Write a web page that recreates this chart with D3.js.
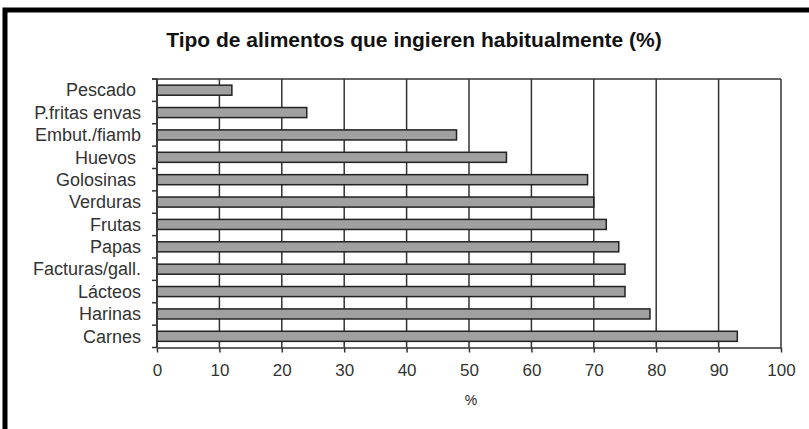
<!DOCTYPE html>
<html>
<head>
<meta charset="utf-8">
<script src="https://cdn.jsdelivr.net/npm/d3@7"></script>
<style>
  body { margin: 0; background: #fff; }
  svg { display: block; font-family: "Liberation Sans", Arial, sans-serif; }
</style>
</head>
<body>
<script>
var categories = ["Pescado ", "P.fritas envas", "Embut./fiamb", "Huevos ", "Golosinas ", "Verduras",
                  "Frutas", "Papas", "Facturas/gall.", "Lácteos", "Harinas", "Carnes"];
var values = [12, 24, 48, 56, 69, 70, 72, 74, 75, 75, 79, 93];
var xTicks = [0, 10, 20, 30, 40, 50, 60, 70, 80, 90, 100];

var chartTitle = "Tipo de alimentos que ingieren habitualmente (%)";
var xTitle = "%";

var outerWidth = 809;
var outerHeight = 429;
var plotLeft = 157;
var plotRight = 781;
var plotTop = 79;
var plotBottom = 347.5;

var lineColor = "#333";
var barColor = "#a0a0a0";

var x = d3.scaleLinear()
        .domain([0, 100])
        .range([plotLeft, plotRight]);

var y = d3.scaleBand()
        .domain(categories)
        .range([plotTop, plotBottom])
        .paddingInner(0.55)
        .paddingOuter(0.275);

var svg = d3.select("body").append("svg")
            .attr("width", outerWidth)
            .attr("height", outerHeight);

// thick frame on top and left
svg.append("path")
   .attr("d", "M5,429 L5,10 L809,10")
   .attr("fill", "none")
   .attr("stroke", "#000")
   .attr("stroke-width", 5);

svg.append("text")
   .attr("x", 414)
   .attr("y", 47)
   .attr("text-anchor", "middle")
   .attr("font-size", 21)
   .attr("font-weight", "bold")
   .attr("fill", "#111")
   .text(chartTitle);

// vertical gridlines
svg.selectAll("line.grid")
   .data(xTicks)
   .enter()
   .append("line")
   .attr("class", "grid")
   .attr("x1", function(d) { return x(d); })
   .attr("x2", function(d) { return x(d); })
   .attr("y1", plotTop)
   .attr("y2", plotBottom)
   .attr("stroke", lineColor)
   .attr("stroke-width", 1.5);

// top border of plot
svg.append("line")
   .attr("x1", plotLeft - 5).attr("x2", plotRight)
   .attr("y1", plotTop).attr("y2", plotTop)
   .attr("stroke", lineColor)
   .attr("stroke-width", 1.5);

svg.selectAll("rect.bar")
   .data(values)
   .enter()
   .append("rect")
   .attr("class", "bar")
   .attr("x", x(0))
   .attr("y", function(d, i) { return y(categories[i]); })
   .attr("width", function(d) { return x(d) - x(0); })
   .attr("height", y.bandwidth())
   .attr("fill", barColor)
   .attr("stroke", "#222")
   .attr("stroke-width", 1.5);

// x axis
var xAxis = svg.append("g")
   .attr("transform", "translate(0," + plotBottom + ")")
   .call(d3.axisBottom(x).tickValues(xTicks).tickSize(5).tickPadding(11).tickSizeOuter(0));
xAxis.select(".domain").attr("stroke", lineColor).attr("stroke-width", 1.5);
xAxis.selectAll(".tick line").attr("stroke", lineColor).attr("stroke-width", 1.5);
xAxis.selectAll(".tick text")
     .attr("font-size", 17)
     .attr("font-family", "Liberation Sans, Arial, sans-serif")
     .attr("fill", "#333");

// y axis: ticks at band boundaries
var step = y.step();
var bounds = d3.range(categories.length + 1).map(function(i) { return plotTop + i * step; });
svg.append("line")
   .attr("x1", plotLeft).attr("x2", plotLeft)
   .attr("y1", plotTop).attr("y2", plotBottom)
   .attr("stroke", lineColor)
   .attr("stroke-width", 1.5);
svg.selectAll("line.ytick")
   .data(bounds)
   .enter()
   .append("line")
   .attr("class", "ytick")
   .attr("x1", plotLeft - 5).attr("x2", plotLeft)
   .attr("y1", function(d) { return d; })
   .attr("y2", function(d) { return d; })
   .attr("stroke", lineColor)
   .attr("stroke-width", 1.5);

svg.selectAll("text.ylabel")
   .data(categories)
   .enter()
   .append("text")
   .attr("class", "ylabel")
   .attr("x", 141)
   .attr("y", function(d) { return y(d) + y.bandwidth() / 2; })
   .attr("dy", "0.35em")
   .attr("text-anchor", "end")
   .attr("font-size", 18)
   .attr("fill", "#333")
   .style("white-space", "pre")
   .text(function(d) { return d; });

svg.append("text")
   .attr("x", x(50) + 2)
   .attr("y", 405)
   .attr("text-anchor", "middle")
   .attr("font-size", 14)
   .attr("fill", "#222")
   .text(xTitle);
</script>
</body>
</html>
